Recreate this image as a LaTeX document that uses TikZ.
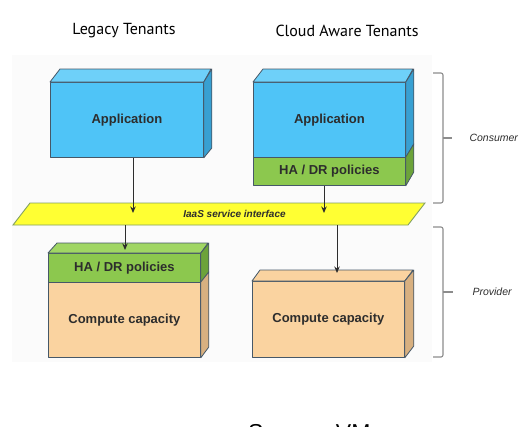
\documentclass[tikz,border=0pt]{standalone}
\usepackage{fontspec}
\setmainfont{Liberation Sans}
\newfontfamily\titlefont{PT Sans}
\usetikzlibrary{arrows.meta,calc}
\definecolor{bluefront}{RGB}{79,196,247}
\definecolor{bluetop}{RGB}{110,208,249}
\definecolor{blueside}{RGB}{56,160,210}
\definecolor{greenfront}{RGB}{140,200,78}
\definecolor{greentop}{RGB}{160,214,100}
\definecolor{greenside}{RGB}{108,163,58}
\definecolor{tanfront}{RGB}{250,211,160}
\definecolor{tanside}{RGB}{216,176,128}
\definecolor{iaasfill}{RGB}{255,255,51}
\definecolor{iaasedge}{RGB}{130,160,100}
\definecolor{edge}{RGB}{70,88,104}
\definecolor{txt}{RGB}{45,45,45}
\definecolor{brace}{RGB}{140,140,140}
\definecolor{bgpanel}{RGB}{251,251,251}
\tikzset{
  face/.style={draw=edge, line width=0.8pt, line join=round},
  frontbox/.style={face, inner sep=0pt, anchor=north west, text=txt,
    font=\bfseries\fontsize{13}{15}\selectfont},
  arr/.style={draw=txt, line width=1pt, -{Stealth[length=6.5pt,width=5.5pt]}},
  bracket/.style={draw=brace, line width=1.1pt, rounded corners=2pt},
  sidelabel/.style={text=txt, font=\itshape\fontsize{10.5}{12}\selectfont, anchor=west},
  title/.style={text=black, font=\titlefont\fontsize{16}{19}\selectfont}
}
\begin{document}
\begin{tikzpicture}[x=1pt,y=-1pt]
\useasboundingbox (0,0) rectangle (522,426);
\fill[bgpanel] (12,55) rectangle (432,362);

% titles
\node[title] (t1) at (124,31) {Legacy Tenants};
\node[title] (t2) at (347,31) {Cloud Aware Tenants};

% left application
\node[frontbox, fill=bluefront, minimum width=153pt, minimum height=75pt] (lapp) at (50,82) {Application};
\filldraw[face, fill=bluetop] (lapp.north west) -- ++(10,-13) -- ++(151,0) -- (lapp.north east) -- cycle;
\filldraw[face, fill=blueside] (lapp.north east) -- ++(8,-13) -- ++(0,79) -- (lapp.south east) -- cycle;

% right application + HA/DR
\node[frontbox, fill=bluefront, minimum width=152pt, minimum height=75pt] (rapp) at (253,82) {Application};
\node[frontbox, fill=greenfront, minimum width=152pt, minimum height=28pt] (rha) at (253,157) {HA / DR policies};
\filldraw[face, fill=bluetop] (rapp.north west) -- ++(10,-13) -- ++(150,0) -- (rapp.north east) -- cycle;
\filldraw[face, fill=blueside] (rapp.north east) -- ++(8,-13) -- ++(0,75) -- (rapp.south east) -- cycle;
\filldraw[face, fill=greenside] (rha.north east) -- ++(8,-13) -- ++(0,28) -- (rha.south east) -- cycle;

% IaaS service interface
\filldraw[draw=iaasedge, line width=0.9pt, fill=iaasfill] (30,203) -- (425,203) -- (408,225) -- (13,225) -- cycle;
\node[text=txt, font=\bfseries\itshape\fontsize{10}{12}\selectfont] (iaas) at (234.5,214) {IaaS service interface};
\coordinate (ifb) at (0,225);

% left bottom: HA/DR + compute
\node[frontbox, fill=greenfront, minimum width=152pt, minimum height=29pt] (lha) at (48,253) {HA / DR policies};
\node[frontbox, fill=tanfront, minimum width=152pt, minimum height=75pt] (lcomp) at (48,282) {Compute capacity};
\filldraw[face, fill=greentop] (lha.north west) -- ++(9,-10) -- ++(151,0) -- (lha.north east) -- cycle;
\filldraw[face, fill=greenside] (lha.north east) -- ++(8,-10) -- ++(0,29) -- (lha.south east) -- cycle;
\filldraw[face, fill=tanside] (lcomp.north east) -- ++(8,-10) -- ++(0,75) -- (lcomp.south east) -- cycle;

% right compute
\node[frontbox, fill=tanfront, minimum width=152pt, minimum height=76pt] (rcomp) at (252,281) {Compute capacity};
\filldraw[face, fill=tanfront] (rcomp.north west) -- ++(8,-11) -- ++(153,0) -- (rcomp.north east) -- cycle;
\filldraw[face, fill=tanside] (rcomp.north east) -- ++(9,-11) -- ++(0,76) -- (rcomp.south east) -- cycle;

% arrows
\coordinate (a1) at (133,213);
\coordinate (a2) at (324,213);
\coordinate (a3) at (125,250);
\coordinate (a4) at (337,273);
\draw[arr] (lapp.south -| a1) -- (a1);
\draw[arr] (rha.south -| a2) -- (a2);
\draw[arr] (ifb -| a3) -- (a3);
\draw[arr] (ifb -| a4) -- (a4);

% brackets
\draw[bracket] (433,73) -- (443,73) -- (443,203) -- (433,203);
\draw[bracket] (443,138) -- (452,138);
\node[sidelabel] (cons) at (466,138) {Consumer};
\draw[bracket] (433,227) -- (443,227) -- (443,357) -- (433,357);
\draw[bracket] (443,292) -- (453,292);
\node[sidelabel] (prov) at (469,292) {Provider};

% source (cut off at the bottom edge, as in the reference)
\node[anchor=base west, inner sep=0pt, font=\fontsize{23}{26}\selectfont] (src) at (248,440) {Source: VMware};
\end{tikzpicture}
\end{document}
